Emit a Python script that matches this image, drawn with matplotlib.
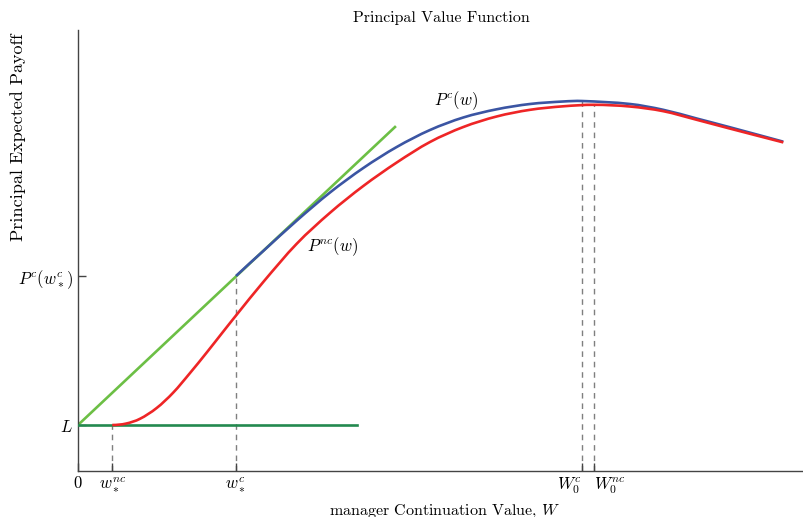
import matplotlib
matplotlib.use("Agg")
import matplotlib.pyplot as plt
from matplotlib.path import Path
from matplotlib.patches import PathPatch

plt.rcParams["font.family"] = "serif"
plt.rcParams["font.serif"] = ["cmr10", "DejaVu Serif"]
plt.rcParams["mathtext.fontset"] = "cm"
plt.rcParams["axes.formatter.use_mathtext"] = True

# key points on the W axis
w_star_nc = 0.472
w_star_c = 2.176
W0_c = 6.942
W0_nc = 7.107
L = 1.043
P_c_wstar = 4.42

# P^c(w)
pc_x = [2.176, 2.552, 3.012, 3.471, 3.930, 4.390, 4.848, 5.307, 5.767,
        6.226, 6.685, 6.942, 7.603, 8.062, 8.522, 8.981, 9.715]
pc_y = [4.422, 4.989, 5.676, 6.315, 6.871, 7.347, 7.732, 8.016, 8.202,
        8.322, 8.379, 8.390, 8.322, 8.190, 7.993, 7.794, 7.467]

# P^nc(w)
pnc_x = [0.472, 0.661, 0.854, 1.084, 1.313, 1.543, 1.773, 2.001, 2.176,
         2.552, 3.012, 3.471, 3.930, 4.390, 4.848, 5.307, 5.767, 6.226,
         6.685, 7.107, 7.603, 8.062, 8.522, 8.981, 9.715]
pnc_y = [1.043, 1.075, 1.184, 1.429, 1.780, 2.222, 2.687, 3.163, 3.525,
         4.286, 5.152, 5.855, 6.463, 6.995, 7.460, 7.800, 8.039, 8.190,
         8.270, 8.304, 8.265, 8.159, 7.964, 7.764, 7.451]

# tangent line and floor L
tan_x = [0.0, 4.366]
tan_y = [L, 7.80]
floor_x = [0.0, 3.843]
floor_y = [L, L]

xtick_pos = [0, w_star_nc, w_star_c, W0_c, W0_nc]
xtick_lab = ["0", r"$w_*^{nc}$", r"$w_*^{c}$", r"$W_0^{c}$", r"$W_0^{nc}$"]
ytick_pos = [L, P_c_wstar]
ytick_lab = [r"$L$", r"$P^c(w_*^c)$"]


def smooth_path(xs, ys, start_slope=None):
    # cubic hermite through the read points, as bezier pieces
    n = len(xs)
    m = []
    for i in range(n):
        if i == 0:
            s = (ys[1] - ys[0]) / (xs[1] - xs[0])
            if start_slope is not None:
                s = start_slope
        elif i == n - 1:
            s = (ys[-1] - ys[-2]) / (xs[-1] - xs[-2])
        else:
            s = (ys[i + 1] - ys[i - 1]) / (xs[i + 1] - xs[i - 1])
        m.append(s)
    verts = [(xs[0], ys[0])]
    codes = [Path.MOVETO]
    for i in range(n - 1):
        h = xs[i + 1] - xs[i]
        verts += [(xs[i] + h / 3, ys[i] + m[i] * h / 3),
                  (xs[i + 1] - h / 3, ys[i + 1] - m[i + 1] * h / 3),
                  (xs[i + 1], ys[i + 1])]
        codes += [Path.CURVE4] * 3
    return Path(verts, codes)


fig = plt.figure(figsize=(8.04, 5.17), dpi=100)
ax = fig.add_axes([78 / 804, 46 / 517, 726 / 804, 441 / 517])

dash = dict(color="#7f7f7f", lw=1.0, ls=(0, (4, 3.5)), zorder=1)
ax.plot([w_star_nc, w_star_nc], [0, L], **dash)
ax.plot([w_star_c, w_star_c], [0, P_c_wstar], **dash)
ax.plot([W0_c, W0_c], [0, max(pc_y)], **dash)
ax.plot([W0_nc, W0_nc], [0, max(pnc_y)], **dash)

green_slope = (tan_y[1] - tan_y[0]) / (tan_x[1] - tan_x[0])
ax.plot(tan_x, tan_y, color="#6cbf45", lw=1.9, zorder=2)
ax.plot(floor_x, floor_y, color="#23894f", lw=1.9, zorder=3)
ax.add_patch(PathPatch(smooth_path(pc_x, pc_y, green_slope), fill=False,
                       edgecolor="#3b55a3", lw=1.9, zorder=4))
ax.add_patch(PathPatch(smooth_path(pnc_x, pnc_y, 0.0), fill=False,
                       edgecolor="#ee2526", lw=1.9, zorder=5))

ax.text(4.904, 8.39, r"$P^c(w)$", fontsize=12, va="center", ha="left")
ax.text(3.154, 5.079, r"$P^{nc}(w)$", fontsize=12, va="center", ha="left")

ax.set_xlim(0, 10)
ax.set_ylim(0, 10)
ax.set_xticks(xtick_pos)
ax.set_xticklabels(xtick_lab, fontsize=12)
ax.set_yticks(ytick_pos)
ax.set_yticklabels(ytick_lab, fontsize=12)
ax.tick_params(direction="in", length=6, width=1, color="#444444")
tl = ax.get_xticklabels()
tl[3].set_horizontalalignment("right")
tl[4].set_horizontalalignment("left")

for s in ["top", "right"]:
    ax.spines[s].set_visible(False)
for s in ["left", "bottom"]:
    ax.spines[s].set_color("#444444")
    ax.spines[s].set_linewidth(1.0)

ax.set_title("Principal Value Function", fontsize=11.5, pad=6)
ax.set_xlabel(r"manager Continuation Value, $W$", fontsize=11.5)
ax.xaxis.set_label_coords(0.505, -0.073)
ax.set_ylabel("Principal Expected Payoff", fontsize=13)
ax.yaxis.set_label_coords(-0.072, 0.757)

fig.savefig("out.png", dpi=100)
